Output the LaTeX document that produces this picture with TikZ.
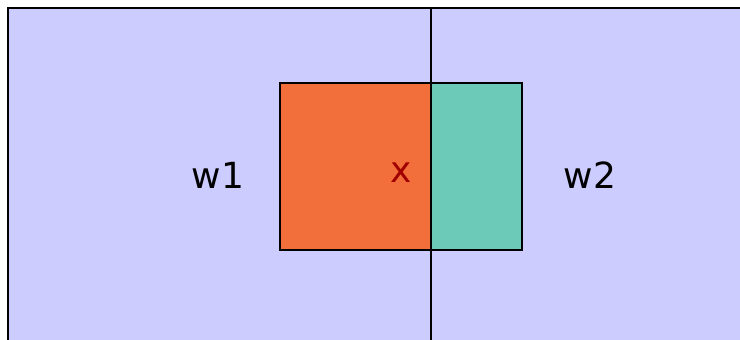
\documentclass[tikz,border=0pt]{standalone}
\usepackage{fontspec}
\setmainfont{DejaVu Sans}
\usetikzlibrary{positioning}
\definecolor{winbg}{RGB}{204,204,255}
\definecolor{leftpart}{RGB}{242,110,59}
\definecolor{rightpart}{RGB}{108,202,184}
\definecolor{xred}{RGB}{160,0,0}
\tikzset{
	edgeline/.style={draw=black, line width=2pt},
	lbl/.style={font=\fontsize{36}{40}\selectfont, anchor=base, inner sep=0pt}
}

\begin{document}
\begin{tikzpicture}[x=1pt, y=-1pt]
	\useasboundingbox (0,0) rectangle (740,340);
	\clip (0,0) rectangle (740,340);
	% the two windows
	\fill[winbg] (8,8) rectangle (742,342);
	\draw[edgeline] (8,342) -- (8,8) -- (742,8);
	\draw[edgeline, draw=black!50] (8,340.6) -- (742,340.6);
	% the element cut by the border
	\fill[leftpart] (280,83) rectangle (431,250);
	\fill[rightpart] (431,83) rectangle (522,250);
	\draw[edgeline] (280,83) rectangle (522,250);
	\draw[edgeline] (431,8) -- (431,342);
	% labels
	\node[lbl] (w1) at (218,188) {w1};
	\node[lbl] (w2) at (590,188) {w2};
	\node[lbl, text=xred] (x) at (401,182) {x};
\end{tikzpicture}
\end{document}
